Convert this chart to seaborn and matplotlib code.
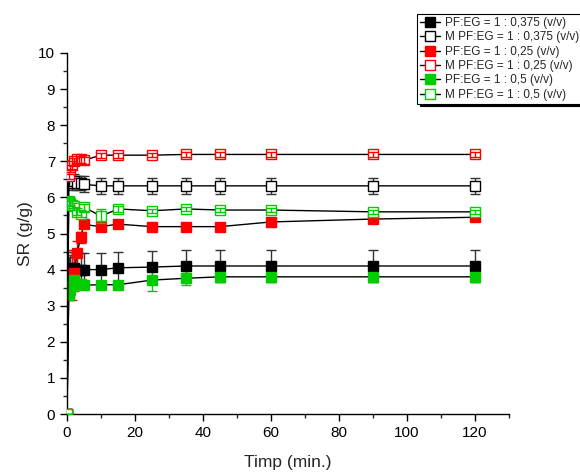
import matplotlib
matplotlib.use("Agg")
import matplotlib.pyplot as plt
import seaborn as sns
import numpy as np
import pandas as pd
from matplotlib.ticker import MultipleLocator
from matplotlib.lines import Line2D

time = [0, 0.5, 1, 1.5, 2, 3, 4, 5, 10, 15, 25, 35, 45, 60, 90, 120]

labels = ["PF:EG = 1 : 0,375 (v/v)", "M PF:EG = 1 : 0,375 (v/v)",
          "PF:EG = 1 : 0,25 (v/v)", "M PF:EG = 1 : 0,25 (v/v)",
          "PF:EG = 1 : 0,5 (v/v)", "M PF:EG = 1 : 0,5 (v/v)"]

sr_375 = [0, 3.95, 4.0, 4.05, 4.05, 4.0, 4.0, 4.0, 4.0, 4.05, 4.07, 4.1, 4.1, 4.1, 4.1, 4.1]
err_375 = [0, 0.4, 0.4, 0.45, 0.45, 0.45, 0.45, 0.45, 0.45, 0.45, 0.45, 0.45, 0.45, 0.45, 0.45, 0.45]
sr_m375 = [0, 6.5, 6.45, 6.4, 6.45, 6.4, 6.4, 6.36, 6.32, 6.32, 6.32, 6.32, 6.32, 6.32, 6.32, 6.32]
err_m375 = [0, 0.2, 0.2, 0.2, 0.2, 0.2, 0.2, 0.22, 0.22, 0.22, 0.22, 0.22, 0.22, 0.22, 0.22, 0.22]
sr_25 = [0, 3.35, 3.6, 3.85, 3.9, 4.45, 4.9, 5.25, 5.19, 5.26, 5.19, 5.19, 5.19, 5.32, 5.4, 5.45]
err_25 = [0, 0.2, 0.3, 0.7, 0.5, 0.35, 0.15, 0.1, 0.1, 0.05, 0.05, 0.05, 0.05, 0.05, 0.05, 0.05]
sr_m25 = [0, 6.6, 6.8, 6.9, 7.0, 7.05, 7.05, 7.03, 7.17, 7.17, 7.17, 7.19, 7.19, 7.19, 7.19, 7.19]
err_m25 = [0, 0.1, 0.1, 0.1, 0.1, 0.1, 0.1, 0.1, 0.07, 0.07, 0.06, 0.06, 0.06, 0.06, 0.06, 0.06]
sr_5 = [0, 3.3, 3.45, 3.55, 3.7, 3.6, 3.6, 3.57, 3.58, 3.58, 3.71, 3.76, 3.8, 3.8, 3.8, 3.8]
err_5 = [0, 0.1, 0.1, 0.1, 0.1, 0.1, 0.1, 0.1, 0.1, 0.1, 0.3, 0.2, 0.15, 0.15, 0.15, 0.15]
sr_m5 = [0, 5.9, 5.85, 5.8, 5.75, 5.6, 5.55, 5.73, 5.48, 5.68, 5.63, 5.68, 5.65, 5.65, 5.6, 5.6]
err_m5 = [0, 0.1, 0.1, 0.1, 0.1, 0.1, 0.1, 0.1, 0.2, 0.08, 0.06, 0.06, 0.06, 0.06, 0.06, 0.06]

series = [
    (sr_375, err_375, "black", True),
    (sr_m375, err_m375, "black", False),
    (sr_25, err_25, "#ff0000", True),
    (sr_m25, err_m25, "#ff0000", False),
    (sr_5, err_5, "#00cc00", True),
    (sr_m5, err_m5, "#00cc00", False),
]

sns.set_style("ticks")
plt.rcParams['font.family'] = ['Liberation Sans', 'DejaVu Sans']

fig = plt.figure(figsize=(5.8, 4.72), dpi=100)
ax = fig.add_axes([67/580, 1-414/472, (509-67)/580, (414-53)/472])

for (vals, errs, col, filled), lab in zip(series, labels):
    df = pd.DataFrame({"t": time, "sr": vals})
    ecol = "#333333" if col == "black" else col
    ez = 2 if (filled or col == "black") else 4
    ax.errorbar(time, vals, yerr=errs, fmt="none", ecolor=ecol, elinewidth=1.0,
                capsize=3.5, capthick=1.0, zorder=ez)
    sns.lineplot(data=df, x="t", y="sr", ax=ax, color="black", linewidth=1.0,
                 marker="s", markersize=6.5,
                 markerfacecolor=col if filled else "white",
                 markeredgecolor=col, markeredgewidth=1.0,
                 label=lab, legend=False, zorder=3)

ax.set_xlim(0, 130)
ax.set_ylim(0, 10)
ax.xaxis.set_major_locator(MultipleLocator(20))
ax.xaxis.set_minor_locator(MultipleLocator(10))
ax.yaxis.set_major_locator(MultipleLocator(1))
ax.yaxis.set_minor_locator(MultipleLocator(0.5))
ax.tick_params(which="major", direction="out", length=5, width=1, labelsize=11, colors="black")
ax.tick_params(which="minor", direction="out", length=3, width=1)
sns.despine(ax=ax)
for s in ("left", "bottom"):
    ax.spines[s].set_color("black")
    ax.spines[s].set_linewidth(1)
ax.set_xticks([0, 20, 40, 60, 80, 100, 120])
ax.set_xlabel("Timp (min.)", fontsize=12.5, labelpad=11)
ax.set_ylabel("SR (g/g)", fontsize=12.5, labelpad=4)

hs = []
for (vals, errs, col, filled), lab in zip(series, labels):
    hs.append(Line2D([0], [0], color="black", lw=1.0, marker="s", markersize=6.5,
                     markerfacecolor=col if filled else "white", markeredgecolor=col,
                     markeredgewidth=1.0))
leg = fig.legend(hs, labels, loc="upper left", bbox_to_anchor=(417/580, 1-14/472),
                 fontsize=8.5, frameon=True, fancybox=False, shadow={"color": "black", "alpha": 1},
                 handlelength=1.7, handletextpad=0.45, labelspacing=0.2,
                 borderpad=0.25, borderaxespad=0)
leg.get_frame().set_edgecolor("black")
leg.get_frame().set_linewidth(0.8)

fig.savefig("out.png", dpi=100)
